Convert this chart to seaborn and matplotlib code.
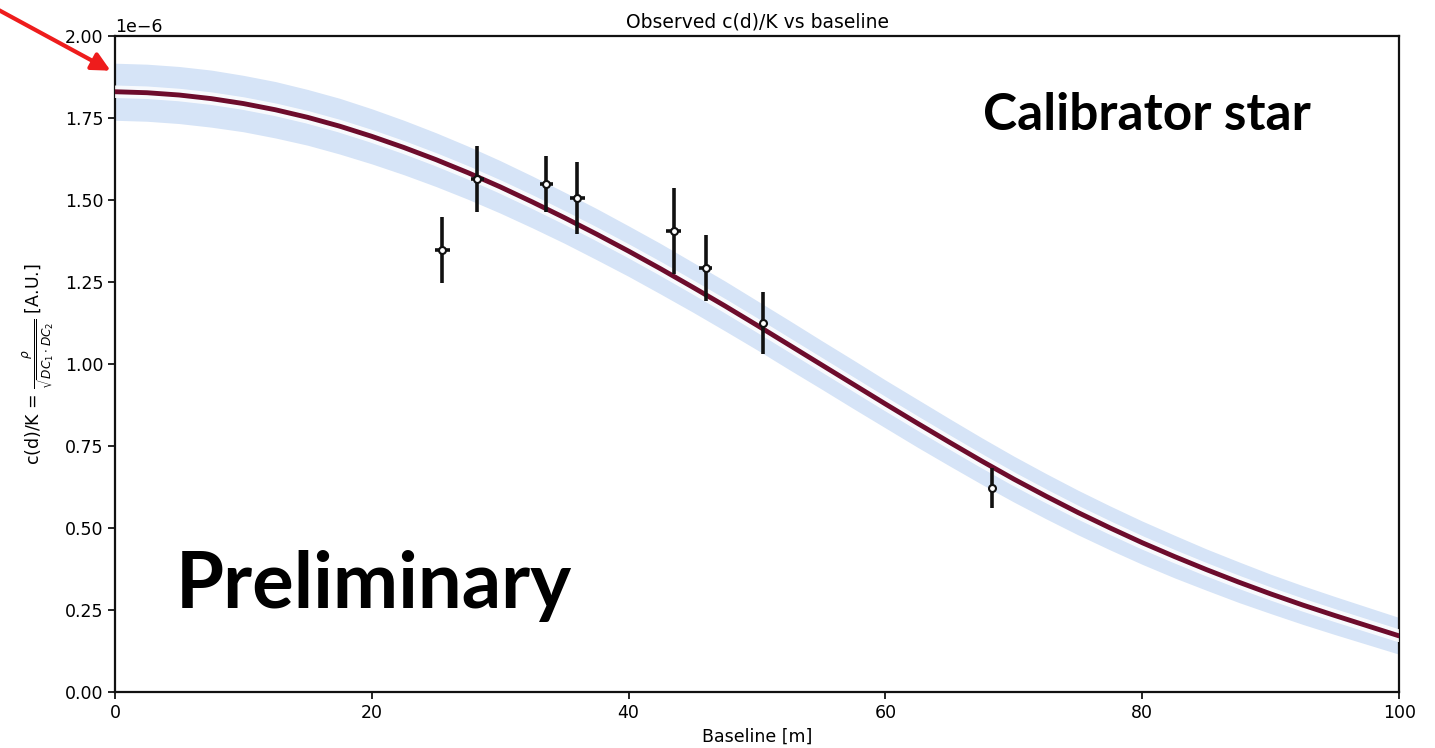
import numpy as np
import pandas as pd
import matplotlib
matplotlib.use("Agg")
import matplotlib.pyplot as plt
import matplotlib.patheffects as pe
import seaborn as sns

# ---- data ----
model_baseline = [0, 2.5, 5, 7.5, 10, 12.5, 15, 17.5, 20, 22.5, 25, 27.5, 30, 32.5, 35,
                  37.5, 40, 42.5, 45, 47.5, 50, 52.5, 55, 57.5, 60, 62.5, 65, 67.5,
                  70, 72.5, 75, 77.5, 80, 82.5, 85, 87.5, 90, 92.5, 95, 97.5, 100]
model_value = [1.830, 1.827, 1.820, 1.809, 1.794, 1.775, 1.752, 1.725, 1.694, 1.660,
               1.623, 1.583, 1.540, 1.494, 1.446, 1.396, 1.344, 1.290, 1.234, 1.177,
               1.118, 1.058, 0.998, 0.938, 0.878, 0.819, 0.761, 0.704, 0.649, 0.597,
               0.547, 0.500, 0.455, 0.413, 0.373, 0.335, 0.299, 0.265, 0.233, 0.202, 0.171]
model_halfwidth = [0.087, 0.087, 0.087, 0.087, 0.086, 0.086, 0.085, 0.085, 0.084, 0.083,
                   0.082, 0.081, 0.080, 0.079, 0.078, 0.078, 0.077, 0.077, 0.076, 0.076,
                   0.075, 0.075, 0.074, 0.074, 0.073, 0.073, 0.072, 0.071, 0.070, 0.069,
                   0.068, 0.067, 0.066, 0.065, 0.063, 0.062, 0.060, 0.059, 0.058, 0.057, 0.056]

obs_baseline = [25.5, 28.2, 33.6, 36.0, 43.5, 46.0, 50.5, 68.3]
obs_value = [1.348, 1.564, 1.549, 1.506, 1.405, 1.293, 1.125, 0.622]
obs_yerr = [0.100, 0.100, 0.085, 0.110, 0.130, 0.100, 0.095, 0.060]
obs_xerr = [0.6, 0.5, 0.5, 0.6, 0.6, 0.5, 0.3, 0.2]

scale = 1e-6
xticks = [0, 20, 40, 60, 80, 100]
yticks = [0.00, 0.25, 0.50, 0.75, 1.00, 1.25, 1.50, 1.75, 2.00]

sns.set_style("ticks")
plt.rcParams["font.family"] = ["DejaVu Sans"]
plt.rcParams["text.color"] = "black"
plt.rcParams["axes.labelcolor"] = "black"

fig = plt.figure(figsize=(14.35, 7.48), dpi=100)
ax = fig.add_axes([0.0801, 0.0749, 0.975 - 0.0801, 0.9519 - 0.0749])

mx = np.array(model_baseline, dtype=float)
my = np.array(model_value) * scale
mh = np.array(model_halfwidth) * scale

ax.fill_between(mx, my - mh, my + mh, color="#d6e4f7", lw=0, zorder=1)

df = pd.DataFrame({"Baseline [m]": mx, "value": my})
sns.lineplot(data=df, x="Baseline [m]", y="value", ax=ax, color="#6d0c2c", lw=3.5,
             zorder=3,
             path_effects=[pe.Stroke(linewidth=9, foreground="white", alpha=0.85), pe.Normal()])

ax.errorbar(obs_baseline, np.array(obs_value) * scale,
            yerr=np.array(obs_yerr) * scale, xerr=obs_xerr,
            fmt="o", ms=5, mfc="white", mec="#111111", mew=1.5,
            ecolor="#111111", elinewidth=2.6, capsize=0, zorder=4)

ax.set_xlim(0, 100)
ax.set_ylim(0, 2.0e-6)
ax.set_xticks(xticks)
ax.set_yticks(np.array(yticks) * scale)
ax.tick_params(labelsize=12.5, length=5, width=1.2, colors="black")
for s in ax.spines.values():
    s.set_linewidth(1.6)
    s.set_color("#111111")
ax.yaxis.get_offset_text().set_fontsize(12.5)
ax.yaxis.get_offset_text().set_color("black")

ax.set_title("Observed c(d)/K vs baseline", fontsize=13.5, pad=6, color="black")
ax.set_xlabel("Baseline [m]", fontsize=12.5, labelpad=4)
ax.set_ylabel(r"c(d)/K = $\frac{\rho}{\sqrt{DC_1 \cdot DC_2}}$ [A.U.]", fontsize=12.5, labelpad=6)

ax.text(4.7, 0.256e-6, "Preliminary", fontsize=56, fontweight="bold", color="black",
        family=["Lato", "DejaVu Sans"], ha="left", va="baseline", zorder=5)
ax.text(67.6, 1.713e-6, "Calibrator star", fontsize=37, fontweight="bold", color="black",
        family=["Lato", "DejaVu Sans"], ha="left", va="baseline", zorder=5)

ax.annotate("", xy=(113, 748 - 72), xycoords="figure pixels",
            xytext=(-5, 748 - 8), textcoords="figure pixels",
            arrowprops=dict(arrowstyle="-|>,head_length=1.1,head_width=0.55",
                            color="#ee1c1c", lw=3), annotation_clip=False)

fig.savefig("out.png", dpi=100)
